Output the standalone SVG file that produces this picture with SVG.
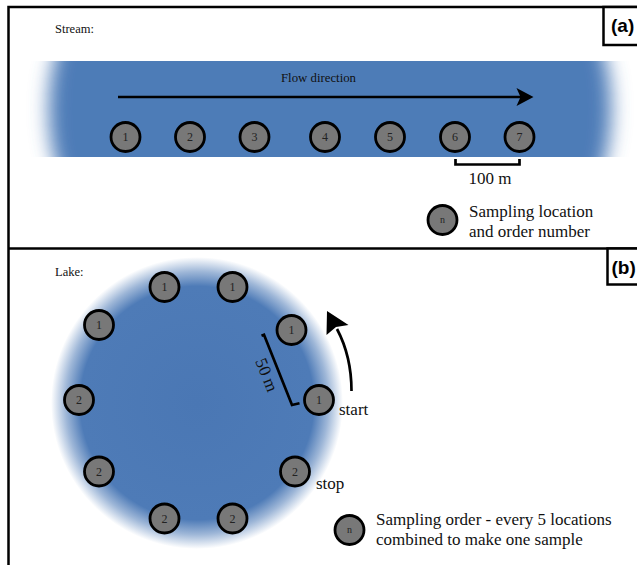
<svg xmlns="http://www.w3.org/2000/svg" width="637" height="565" viewBox="0 0 637 565">
<style>
.t{font-family:"Liberation Serif","Times New Roman",serif;fill:#111}
.lbl{font-family:"Liberation Sans",Arial,sans-serif;font-weight:bold;font-size:19px;fill:#000}
.node circle{fill:#787878;stroke:#000;stroke-width:2.8}
.node text{font-family:"Liberation Serif","Times New Roman",serif;font-size:12px;fill:#222;text-anchor:middle}
.frame{fill:none;stroke:#000;stroke-width:2.5}
.box{fill:#fff;stroke:#000;stroke-width:2.5}
.line{fill:none;stroke:#000;stroke-width:2.7}
</style>
<defs>
<filter id="hblur" x="-10%" y="-10%" width="120%" height="120%"><feGaussianBlur stdDeviation="9.5 0"/></filter>
<clipPath id="band"><rect x="0" y="61" width="637" height="96"/></clipPath>
<radialGradient id="lake" cx="197" cy="403" r="146" gradientUnits="userSpaceOnUse">
<stop offset="0" stop-color="#4a77b4"/>
<stop offset="0.8" stop-color="#4e7bb7"/>
<stop offset="0.9" stop-color="#4e7bb7" stop-opacity="0.55"/>
<stop offset="1" stop-color="#4e7bb7" stop-opacity="0"/>
</radialGradient>
</defs>
<rect x="0" y="0" width="637" height="565" fill="#fff"/>
<g id="frame">
<rect class="frame" x="8.5" y="7" width="700" height="620"/>
<line class="frame" x1="8.5" y1="248.5" x2="637" y2="248.5"/>
</g>
<g id="stream">
<g clip-path="url(#band)">
<path filter="url(#hblur)" fill="#4e7bb7" d="M77,29 L583,29 A28,80 0 0 1 583,189 L77,189 A28,80 0 0 1 77,29 Z"/>
</g>
</g>
<circle id="lake-water" cx="197" cy="403" r="146" fill="url(#lake)"/>
<g id="label-a"><rect class="box" x="603.5" y="7" width="50" height="38"/><text class="lbl" x="611" y="32">(a)</text></g>
<g id="label-b"><rect class="box" x="607.5" y="248.5" width="50" height="36"/><text class="lbl" x="611.5" y="273.5">(b)</text></g>
<text class="t" x="55" y="33" font-size="12.5">Stream:</text>
<text class="t" x="55" y="276" font-size="12.5">Lake:</text>
<text class="t" x="318.5" y="82" font-size="12.8" text-anchor="middle">Flow direction</text>
<g id="connectors">
<line class="line" x1="118" y1="97" x2="521" y2="97"/>
<polygon points="533.5,97 516.5,88 520.5,97 516.5,106" fill="#000"/>
<path class="line" d="M455.5,159 V164.5 H519.5 V159"/>
<path class="line" stroke-width="2.2" d="M261.5,335.8 L264,334.8 L292,405 L299.5,403.2"/>
<path class="line" stroke-width="2.7" d="M351.5,391 C351.5,368 346,346 337,329"/>
<polygon points="327,311 348.5,325 336,327 326.5,335" fill="#000"/>
</g>
<text class="t" x="490" y="184" font-size="17" text-anchor="middle">100 m</text>
<text class="t" font-size="17" text-anchor="middle" transform="translate(261.5,377) rotate(68)">50 m</text>
<g id="s1" class="node"><circle cx="125.5" cy="137" r="14.5"/><text x="125.5" y="141">1</text></g>
<g id="s2" class="node"><circle cx="190" cy="137" r="14.5"/><text x="190" y="141">2</text></g>
<g id="s3" class="node"><circle cx="254.5" cy="137" r="14.5"/><text x="254.5" y="141">3</text></g>
<g id="s4" class="node"><circle cx="325" cy="137" r="14.5"/><text x="325" y="141">4</text></g>
<g id="s5" class="node"><circle cx="390" cy="137" r="14.5"/><text x="390" y="141">5</text></g>
<g id="s6" class="node"><circle cx="455" cy="137" r="14.5"/><text x="455" y="141">6</text></g>
<g id="s7" class="node"><circle cx="519.5" cy="137" r="14.5"/><text x="519.5" y="141">7</text></g>
<g id="legend-a" class="node"><circle cx="442.5" cy="220" r="14.5"/><text x="442.5" y="223" style="font-size:10px">n</text></g>
<text class="t" x="469" y="217" font-size="17">Sampling location</text>
<text class="t" x="469" y="237" font-size="17">and order number</text>
<g id="l1" class="node"><circle cx="164.5" cy="287" r="14.5"/><text x="164.5" y="291">1</text></g>
<g id="l2" class="node"><circle cx="232.5" cy="287" r="14.5"/><text x="232.5" y="291">1</text></g>
<g id="l3" class="node"><circle cx="99" cy="325" r="14.5"/><text x="99" y="329">1</text></g>
<g id="l4" class="node"><circle cx="291.5" cy="330" r="14.5"/><text x="291.5" y="334">1</text></g>
<g id="l5" class="node"><circle cx="319" cy="400" r="14.5"/><text x="319" y="404">1</text></g>
<g id="l6" class="node"><circle cx="79" cy="400" r="14.5"/><text x="79" y="404">2</text></g>
<g id="l7" class="node"><circle cx="99" cy="471.5" r="14.5"/><text x="99" y="475.5">2</text></g>
<g id="l8" class="node"><circle cx="295" cy="471.5" r="14.5"/><text x="295" y="475.5">2</text></g>
<g id="l9" class="node"><circle cx="164.5" cy="518.5" r="14.5"/><text x="164.5" y="522.5">2</text></g>
<g id="l10" class="node"><circle cx="232.5" cy="518.5" r="14.5"/><text x="232.5" y="522.5">2</text></g>
<text class="t" x="339" y="415" font-size="17">start</text>
<text class="t" x="316" y="489" font-size="17">stop</text>
<g id="legend-b" class="node"><circle cx="349.5" cy="530" r="14.5"/><text x="349.5" y="533" style="font-size:10px">n</text></g>
<text class="t" x="376" y="525" font-size="17">Sampling order - every 5 locations</text>
<text class="t" x="376" y="545" font-size="17">combined to make one sample</text>
</svg>
